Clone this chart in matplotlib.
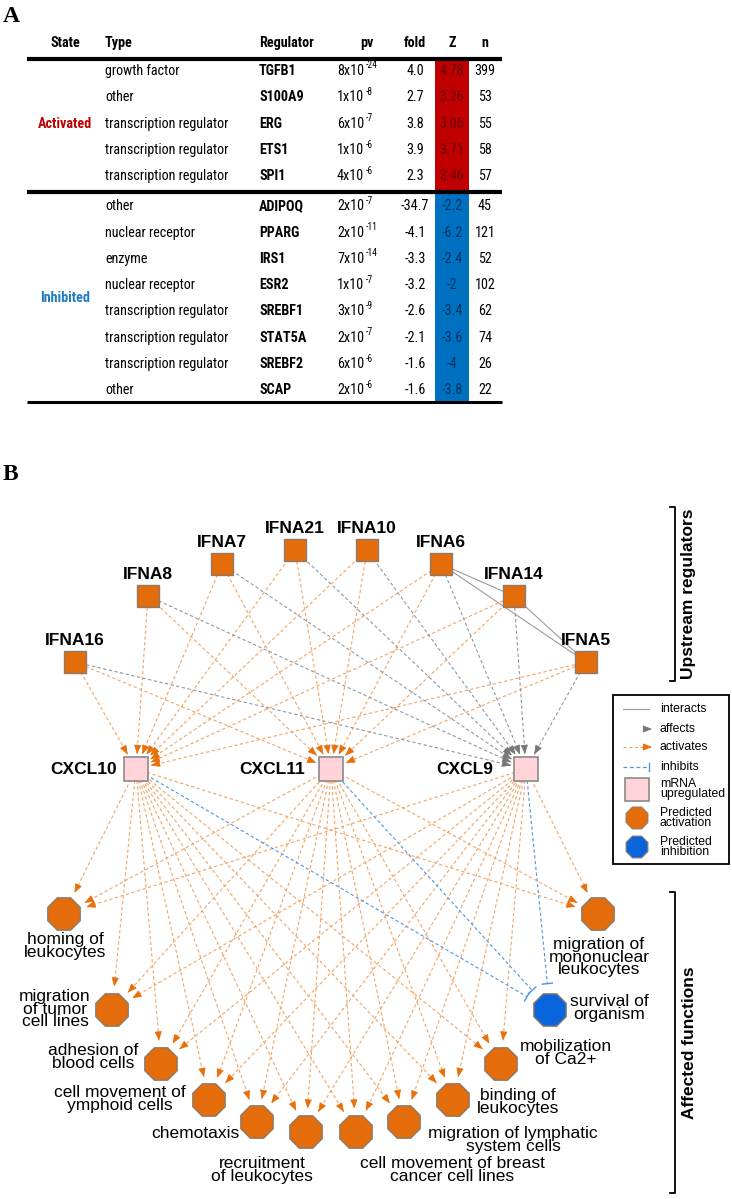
import numpy as np
import matplotlib
matplotlib.use('Agg')
import matplotlib.pyplot as plt
from matplotlib.patches import Rectangle, RegularPolygon
from matplotlib import font_manager

# ---------------- data: panel A (table) ----------------
state_names = ['Activated', 'Inhibited']
state_sizes = [5, 8]
types = ['growth factor', 'other', 'transcription regulator', 'transcription regulator',
         'transcription regulator', 'other', 'nuclear receptor', 'enzyme', 'nuclear receptor',
         'transcription regulator', 'transcription regulator', 'transcription regulator', 'other']
regulators = ['TGFB1', 'S100A9', 'ERG', 'ETS1', 'SPI1', 'ADIPOQ', 'PPARG', 'IRS1', 'ESR2',
              'SREBF1', 'STAT5A', 'SREBF2', 'SCAP']
pv_mantissa = [8, 1, 6, 1, 4, 2, 2, 7, 1, 3, 2, 6, 2]
pv_exponent = [-24, -8, -7, -6, -6, -7, -11, -14, -7, -9, -7, -6, -6]
fold = [4.0, 2.7, 3.8, 3.9, 2.3, -34.7, -4.1, -3.3, -3.2, -2.6, -2.1, -1.6, -1.6]
zscore = [4.78, 3.26, 3.06, 3.71, 3.46, -2.2, -6.2, -2.4, -2, -3.4, -3.6, -4, -3.8]
n_genes = [399, 53, 55, 58, 57, 45, 121, 52, 102, 62, 74, 26, 22]
headers = ['State', 'Type', 'Regulator', 'pv', 'fold', 'Z', 'n']

# ---------------- data: panel B (network) ----------------
upstream = ['IFNA16', 'IFNA8', 'IFNA7', 'IFNA21', 'IFNA10', 'IFNA6', 'IFNA14', 'IFNA5']
chemokines = ['CXCL10', 'CXCL11', 'CXCL9']
chemokine_relation = ['activates', 'activates', 'affects']   # upstream -> chemokine
functions = ['homing of\nleukocytes', 'migration\nof tumor\ncell lines', 'adhesion of\nblood cells',
             'cell movement of\nymphoid cells', 'chemotaxis', 'recruitment\nof leukocytes',
             'cell movement of breast\ncancer cell lines', 'migration of lymphatic\nsystem cells',
             'binding of\nleukocytes', 'mobilization\nof Ca2+', 'survival of\norganism',
             'migration of\nmononuclear\nleukocytes']
function_state = ['activation'] * 10 + ['inhibition', 'activation']
interactions = [('IFNA6', 'IFNA14'), ('IFNA6', 'IFNA5'), ('IFNA14', 'IFNA5')]

# ---------------- layout (pixel positions) ----------------
up_pos = {'IFNA16': (75, 662), 'IFNA8': (148, 596), 'IFNA7': (222, 564), 'IFNA21': (295, 550),
          'IFNA10': (367, 550), 'IFNA6': (441, 564), 'IFNA14': (514, 596), 'IFNA5': (586, 662)}
ck_pos = {'CXCL10': (136, 769), 'CXCL11': (331, 769), 'CXCL9': (526, 769)}
ck_label_right = {'CXCL10': 117, 'CXCL11': 305, 'CXCL9': 493}
fn_pos = [(64, 914), (112, 1010), (161, 1064), (209, 1100), (257, 1122), (306, 1132),
          (356, 1132), (404, 1122), (453, 1100), (501, 1064), (550, 1010), (598, 914)]
fn_label = [(65, 946), (55, 1009), (93, 1057), (120, 1099), (195, 1134), (262, 1170),
            (452, 1170), (513, 1140), (518, 1102), (566, 1053), (609, 1008), (599, 957)]

# ---------------- styles ----------------
ORANGE = '#E46C0A'
NODE_EC = '#8C7B6B'
PINK = '#FFD3D8'
BLUE_NODE = '#0A64DC'
ACT_LINE = '#F2A465'
ACT_HEAD = '#E8700A'
AFF_LINE = '#8E98A4'
AFF_HEAD = '#777777'
INH_LINE = '#4D94E6'
RED_BAND = '#C00000'
BLUE_BAND = '#0070C0'

names = {f.name for f in font_manager.fontManager.ttflist}
narrow_pref = ['Liberation Sans Narrow', 'Arial Narrow', 'Roboto Condensed', 'PT Sans Narrow',
               'Archivo Narrow', 'Liberation Sans']
TFAM = [next(n for n in narrow_pref if n in names or n == 'Liberation Sans'), 'DejaVu Sans']
SANS = ['Arimo', 'Liberation Sans', 'DejaVu Sans'] if 'Arimo' in names else ['Liberation Sans', 'DejaVu Sans']
SERIF = ['Liberation Serif', 'DejaVu Serif']

fig = plt.figure(figsize=(7.32, 11.99), dpi=100)
ax = fig.add_axes([0, 0, 1, 1])
ax.set_xlim(0, 732)
ax.set_ylim(1199, 0)
ax.axis('off')

# fit table font size so that the widest type label spans ~124 px as in the reference
renderer = fig.canvas.get_renderer()
_probe = ax.text(0, 0, 'transcription regulator', family=TFAM, fontsize=10)
_w = _probe.get_window_extent(renderer).width
_probe.remove()
TSIZE = min(13.0, 10 * 124.0 / _w)

# ================= Panel A =================
ax.text(3, 16, 'A', family=SERIF, fontweight='bold', fontsize=17, ha='left', va='center')
ax.text(3, 474, 'B', family=SERIF, fontweight='bold', fontsize=17, ha='left', va='center')

x_left, x_right = 27, 502
col_state, col_type, col_reg, col_pv, col_pvh, col_fold, col_z, col_n = 65, 105, 259, 337, 367, 415, 452, 485
z_l, z_r = 435, 469
header_y = 43
y_top, y_mid, y_bot = 58.5, 191.5, 402
BL = TSIZE * 0.42  # baseline offset from row centre (px)

hdr_x = [col_state, col_type, col_reg, col_pvh, col_fold, col_z, col_n]
hdr_ha = ['center', 'left', 'left', 'center', 'center', 'center', 'center']
for h, x, ha in zip(headers, hdr_x, hdr_ha):
    ax.text(x, header_y + BL, h, family=TFAM, fontweight='bold', fontsize=TSIZE, ha=ha, va='baseline')

row_y = []
for i in range(state_sizes[0]):
    row_y.append(70.5 + 26.4 * i)
for i in range(state_sizes[1]):
    row_y.append(206 + 26.3 * i)

ax.add_patch(Rectangle((z_l, y_top), z_r - z_l, y_mid - y_top, fc=RED_BAND, ec='none', zorder=1))
ax.add_patch(Rectangle((z_l, y_mid), z_r - z_l, y_bot - y_mid, fc=BLUE_BAND, ec='none', zorder=1))
for yy, lw in [(y_top, 3.0), (y_mid, 3.0), (y_bot, 2.2)]:
    ax.plot([x_left, x_right], [yy, yy], color='black', lw=lw, solid_capstyle='butt', zorder=2)

state_cols = [RED_BAND, '#1F7BC4']
state_y = [row_y[2], (row_y[5] + row_y[-1]) / 2]
for s, c, yy in zip(state_names, state_cols, state_y):
    ax.text(col_state, yy + BL, s, family=TFAM, fontweight='bold', fontsize=TSIZE, color=c,
            ha='center', va='baseline')

for i, y in enumerate(row_y):
    b = y + BL
    ax.text(col_type, b, types[i], family=TFAM, fontsize=TSIZE, ha='left', va='baseline')
    ax.text(col_reg, b, regulators[i], family=TFAM, fontweight='bold', fontsize=TSIZE, ha='left', va='baseline')
    base = ax.text(col_pv, b, f'{pv_mantissa[i]}x10', family=TFAM, fontsize=TSIZE, ha='left', va='baseline')
    ax.annotate(f'{pv_exponent[i]}', xy=(1, 1), xycoords=base, xytext=(1.5, 2.5), textcoords='offset points',
                family=TFAM, fontsize=TSIZE * 0.68, ha='left', va='top')
    ax.text(col_fold, b, f'{fold[i]:.1f}', family=TFAM, fontsize=TSIZE, ha='center', va='baseline')
    zc = '#6A0000' if zscore[i] > 0 else '#00355F'
    ax.text(col_z, b, f'{zscore[i]:g}', family=TFAM, fontsize=TSIZE, ha='center', va='baseline', color=zc, zorder=3)
    ax.text(col_n, b, f'{n_genes[i]}', family=TFAM, fontsize=TSIZE, ha='center', va='baseline')

# ================= Panel B =================
SQ_UP = 11
SQ_CK = 12
OCT_R = 17.5


def unit(p, q):
    d = np.array(q, float) - np.array(p, float)
    return d / np.hypot(*d)


def sq_dist(u, h):
    return h / max(abs(u[0]), abs(u[1]))


def head(end, u, color, ln=7.0):
    start = np.array(end) - u * ln
    ax.annotate('', xy=tuple(end), xytext=tuple(start),
                arrowprops=dict(arrowstyle='-|>,head_length=0.55,head_width=0.22', color=color,
                                lw=0.6, shrinkA=0, shrinkB=0, mutation_scale=10), zorder=4)


def tbar(end, u, color, w=5):
    perp = np.array([-u[1], u[0]])
    p1 = np.array(end) + perp * w
    p2 = np.array(end) - perp * w
    ax.plot([p1[0], p2[0]], [p1[1], p2[1]], color=color, lw=1.0, zorder=4)


for a, b in interactions:
    pa, pb = up_pos[a], up_pos[b]
    ax.plot([pa[0], pb[0]], [pa[1], pb[1]], color='#9A9A9A', lw=0.8, zorder=1)

for ck, rel in zip(chemokines, chemokine_relation):
    tgt = ck_pos[ck]
    lc, hc = (ACT_LINE, ACT_HEAD) if rel == 'activates' else (AFF_LINE, AFF_HEAD)
    for up in upstream:
        src = up_pos[up]
        u = unit(src, tgt)
        end = np.array(tgt) - u * (sq_dist(u, SQ_CK) + 3)
        ax.plot([src[0], end[0]], [src[1], end[1]], color=lc, lw=0.8, dashes=(3, 2.2), zorder=1)
        head(end, u, hc)

for j, (fp, st) in enumerate(zip(fn_pos, function_state)):
    for ck in chemokines:
        src = ck_pos[ck]
        u = unit(src, fp)
        if st == 'activation':
            end = np.array(fp) - u * (OCT_R + 6)
            ax.plot([src[0], end[0]], [src[1], end[1]], color=ACT_LINE, lw=0.8, dashes=(3, 2.2), zorder=1)
            head(end, u, ACT_HEAD)
        else:
            end = np.array(fp) - u * (OCT_R + 9)
            ax.plot([src[0], end[0]], [src[1], end[1]], color=INH_LINE, lw=0.8, dashes=(3, 2.2), zorder=1)
            tbar(end, u, INH_LINE)

for up in upstream:
    x, y = up_pos[up]
    ax.add_patch(Rectangle((x - SQ_UP, y - SQ_UP), 2 * SQ_UP, 2 * SQ_UP, fc=ORANGE, ec=NODE_EC, lw=1.0, zorder=5))
    ax.text(x, y - 21.5, up, family=SANS, fontweight='bold', fontsize=12.5, ha='center', va='center', zorder=6)
for ck in chemokines:
    x, y = ck_pos[ck]
    ax.add_patch(Rectangle((x - SQ_CK, y - SQ_CK), 2 * SQ_CK, 2 * SQ_CK, fc=PINK, ec='#8A8A8A', lw=1.2, zorder=5))
    ax.text(ck_label_right[ck], y, ck, family=SANS, fontweight='bold', fontsize=12.5, ha='right', va='center', zorder=6)
for fp, lp, name, st in zip(fn_pos, fn_label, functions, function_state):
    fc = ORANGE if st == 'activation' else BLUE_NODE
    ax.add_patch(RegularPolygon(fp, numVertices=8, radius=OCT_R, orientation=np.pi / 8,
                                fc=fc, ec=NODE_EC, lw=1.0, zorder=5))
    ax.text(lp[0], lp[1], name, family=SANS, fontsize=12.5, ha='center', va='center',
            multialignment='center', linespacing=0.82, zorder=6)

for (y0, y1, lab) in [(507, 681, 'Upstream regulators'), (892, 1193, 'Affected functions')]:
    ax.plot([670, 675, 675, 670], [y0, y0, y1, y1], color='black', lw=1.3, zorder=3)
    ax.text(689, (y0 + y1) / 2, lab, rotation=90, family=SANS, fontweight='bold', fontsize=12.5,
            ha='center', va='center')

# legend
ax.add_patch(Rectangle((613, 695), 116, 169, fc='white', ec='black', lw=1.3, zorder=7))
LX0, LX1, TX = 623, 649, 660
ly = [709, 729, 747, 767, 789, 818, 847]
ax.plot([LX0, LX1], [ly[0], ly[0]], color='#9A9A9A', lw=0.8, zorder=8)
ax.annotate('', xy=(652, ly[1]), xytext=(644, ly[1]),
            arrowprops=dict(arrowstyle='-|>,head_length=0.55,head_width=0.22', color=AFF_HEAD, lw=0.6,
                            shrinkA=0, shrinkB=0, mutation_scale=10), zorder=8)
ax.plot([LX0, 645], [ly[2], ly[2]], color=ACT_LINE, lw=0.8, dashes=(3, 2.2), zorder=8)
ax.annotate('', xy=(652, ly[2]), xytext=(644, ly[2]),
            arrowprops=dict(arrowstyle='-|>,head_length=0.55,head_width=0.22', color=ACT_HEAD, lw=0.6,
                            shrinkA=0, shrinkB=0, mutation_scale=10), zorder=8)
ax.plot([LX0, 648], [ly[3], ly[3]], color=INH_LINE, lw=0.9, dashes=(3, 2.2), zorder=8)
ax.plot([649, 649], [ly[3] - 4, ly[3] + 4], color=INH_LINE, lw=1.0, zorder=8)
ax.add_patch(Rectangle((625, ly[4] - 11.5), 24, 23, fc=PINK, ec='#8A8A8A', lw=1.2, zorder=8))
ax.add_patch(RegularPolygon((637, ly[5]), numVertices=8, radius=11.8, orientation=np.pi / 8,
                            fc=ORANGE, ec=NODE_EC, lw=0.8, zorder=8))
ax.add_patch(RegularPolygon((637, ly[6]), numVertices=8, radius=11.8, orientation=np.pi / 8,
                            fc=BLUE_NODE, ec=NODE_EC, lw=0.8, zorder=8))
leg_texts = ['interacts', 'affects', 'activates', 'inhibits', 'mRNA\nupregulated',
             'Predicted\nactivation', 'Predicted\ninhibition']
for t, yy in zip(leg_texts, ly):
    ax.text(TX, yy, t, family=SANS, fontsize=8.8, ha='left', va='center', linespacing=0.85, zorder=9)

fig.savefig('out.png', dpi=100)
